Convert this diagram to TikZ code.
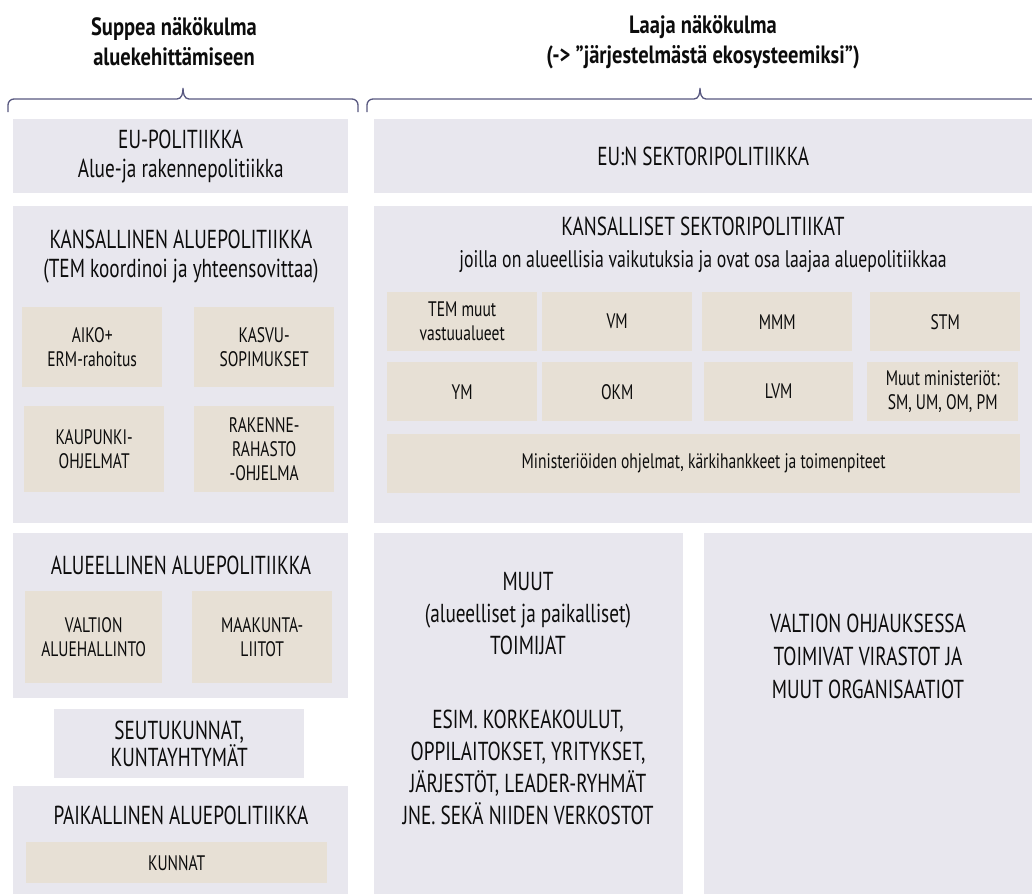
\documentclass[tikz,border=0pt]{standalone}
\usepackage{fontspec}
\setmainfont{PT Sans}[FakeStretch=0.74]
\newfontfamily\titlefont{PT Sans}[FakeStretch=0.82]
\usetikzlibrary{positioning}

\definecolor{panelgray}{RGB}{232,231,238}
\definecolor{itembeige}{RGB}{231,224,213}
\definecolor{bracecol}{RGB}{88,88,128}
\definecolor{inkcol}{RGB}{12,12,12}

\begin{document}
\begin{tikzpicture}[x=1pt, y=-1pt,
  panel/.style={fill=panelgray, inner sep=0pt, anchor=north west},
  item/.style={fill=itembeige, inner sep=0pt, anchor=north west, align=center,
    text=inkcol, font=\fontsize{21}{24}\selectfont},
  heading/.style={align=center, text=inkcol, font=\fontsize{26}{29}\selectfont},
  viewtitle/.style={align=center, text=inkcol, font=\titlefont\bfseries\fontsize{25}{30}\selectfont},
  bracepath/.style={draw=bracecol, line width=1.3pt}]
\useasboundingbox (0,0) rectangle (1032,895);

% Titles and braces
\node[viewtitle] (narrow) at (174,42) {Suppea näkökulma\\aluekehittämiseen};
\node[viewtitle] (broad) at (703,42) {Laaja näkökulma\\(-> ”järjestelmästä ekosysteemiksi”)};
\draw[bracepath] (8,112) -- (8,105) to[out=90,in=180] (14,99) -- (177,99)
  to[out=0,in=-90] (183,88) to[out=-90,in=180] (189,99) -- (352,99)
  to[out=0,in=90] (358,105) -- (358,112);
\draw[bracepath] (367,112) -- (367,105) to[out=90,in=180] (373,99) -- (694,99)
  to[out=0,in=-90] (700,88) to[out=-90,in=180] (706,99) -- (1040,99);

% Left column: EU
\node[panel, minimum width=335pt, minimum height=74pt] (eupol) at (13,119) {};
\node[heading] (eupoltxt) at (eupol.center) {EU-POLITIIKKA\\Alue-ja rakennepolitiikka};

% Left column: national
\node[panel, minimum width=335pt, minimum height=317pt] (kanpol) at (13,206) {};
\node[heading] (kanpoltxt) at (181,257) {KANSALLINEN ALUEPOLITIIKKA\\(TEM koordinoi ja yhteensovittaa)};
\node[item, minimum width=140pt, minimum height=80pt] (aiko) at (22,307) {AIKO+\\ERM-rahoitus};
\node[item, minimum width=140pt, minimum height=80pt] (kasvu) at (194,307) {KASVU-\\SOPIMUKSET};
\node[item, minimum width=140pt, minimum height=86pt] (kaupunki) at (24,406) {KAUPUNKI-\\OHJELMAT};
\node[item, minimum width=140pt, minimum height=86pt] (rakenne) at (194,406) {RAKENNE-\\RAHASTO\\-OHJELMA};

% Left column: regional
\node[panel, minimum width=335pt, minimum height=165pt] (alupol) at (13,533) {};
\node[heading] (alupoltxt) at (181,565) {ALUEELLINEN ALUEPOLITIIKKA};
\node[item, minimum width=137pt, minimum height=92pt] (valtionah) at (25,591) {VALTION\\ALUEHALLINTO};
\node[item, minimum width=140pt, minimum height=92pt] (maakunta) at (192,591) {MAAKUNTA-\\LIITOT};

% Left column: sub-regions
\node[panel, minimum width=250pt, minimum height=69pt] (seutu) at (54,709) {};
\node[heading, font=\fontsize{26}{25}\selectfont] (seututxt) at (seutu.center) {SEUTUKUNNAT,\\KUNTAYHTYMÄT};

% Left column: local
\node[panel, minimum width=335pt, minimum height=108pt] (paipol) at (13,786) {};
\node[heading] (paipoltxt) at (181,815) {PAIKALLINEN ALUEPOLITIIKKA};
\node[item, minimum width=301pt, minimum height=41pt] (kunnat) at (26,842) {KUNNAT};

% Right column: EU
\node[panel, minimum width=658pt, minimum height=74pt] (eusek) at (374,119) {};
\node[heading] (eusektxt) at (eusek.center) {EU:N SEKTORIPOLITIIKKA};

% Right column: national sectors
\node[panel, minimum width=658pt, minimum height=317pt] (kansek) at (374,206) {};
\node[heading] (kansektxt) at (703,245) {KANSALLISET SEKTORIPOLITIIKAT\\[3pt]{\fontsize{24}{29}\selectfont joilla on alueellisia vaikutuksia ja ovat osa laajaa aluepolitiikkaa}};
\node[item, minimum width=150pt, minimum height=59pt] (tem) at (387,292) {TEM muut\\vastuualueet};
\node[item, minimum width=150pt, minimum height=59pt] (vm) at (542,292) {VM};
\node[item, minimum width=150pt, minimum height=59pt] (mmm) at (702,292) {MMM};
\node[item, minimum width=150pt, minimum height=59pt] (stm) at (870,292) {STM};
\node[item, minimum width=150pt, minimum height=59pt] (ym) at (387,362) {YM};
\node[item, minimum width=150pt, minimum height=59pt] (okm) at (542,362) {OKM};
\node[item, minimum width=149pt, minimum height=59pt] (lvm) at (704,362) {LVM};
\node[item, minimum width=151pt, minimum height=59pt] (muutmin) at (867,362) {Muut ministeriöt:\\SM, UM, OM, PM};
\node[item, minimum width=633pt, minimum height=59pt] (ohjelmat) at (387,434) {Ministeriöiden ohjelmat, kärkihankkeet ja toimenpiteet};

% Right column: other actors
\node[panel, minimum width=309pt, minimum height=361pt] (muut) at (374,533) {};
\node[heading, font=\fontsize{26}{32}\selectfont] (muuttxt) at (528,699)
  {MUUT\\(alueelliset ja paikalliset)\\TOIMIJAT\\[42pt]ESIM. KORKEAKOULUT,\\OPPILAITOKSET, YRITYKSET,\\JÄRJESTÖT, LEADER-RYHMÄT\\JNE. SEKÄ NIIDEN VERKOSTOT};

% Right column: state agencies
\node[panel, minimum width=328pt, minimum height=361pt] (valtion) at (704,533) {};
\node[heading, font=\fontsize{26}{33}\selectfont] (valtiontxt) at (868,656)
  {VALTION OHJAUKSESSA\\TOIMIVAT VIRASTOT JA\\MUUT ORGANISAATIOT};
\end{tikzpicture}
\end{document}
